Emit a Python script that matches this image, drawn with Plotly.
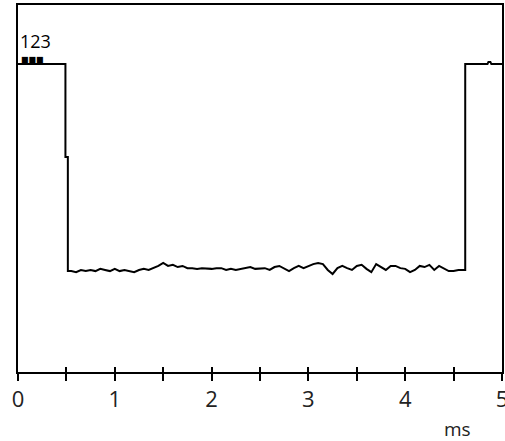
import plotly.graph_objects as go

# Time (ms) and level (arbitrary units, 0-100 scale)
t_edges_start = [0.0, 0.49, 0.49, 0.515, 0.515]
v_edges_start = [83.9, 83.9, 58.6, 58.6, 27.5]

t_low = [0.55, 0.60, 0.65, 0.70, 0.75, 0.80, 0.85, 0.90, 0.95, 1.00,
         1.05, 1.10, 1.15, 1.20, 1.25, 1.30, 1.35, 1.40, 1.45, 1.50,
         1.55, 1.60, 1.65, 1.70, 1.75, 1.80, 1.85, 1.90, 1.95, 2.00,
         2.05, 2.10, 2.15, 2.20, 2.25, 2.30, 2.35, 2.40, 2.45, 2.50,
         2.55, 2.60, 2.65, 2.70, 2.75, 2.80, 2.85, 2.90, 2.95, 3.00,
         3.05, 3.10, 3.15, 3.20, 3.25, 3.30, 3.35, 3.40, 3.45, 3.50,
         3.55, 3.60, 3.65, 3.70, 3.75, 3.80, 3.85, 3.90, 3.95, 4.00,
         4.05, 4.10, 4.15, 4.20, 4.25, 4.30, 4.35, 4.40, 4.45, 4.50,
         4.55, 4.62]
v_low = [27.5, 27.2, 27.8, 27.5, 27.8, 27.5, 28.1, 27.8, 27.5, 28.1,
         27.5, 27.8, 27.5, 27.2, 27.8, 28.1, 27.8, 28.3, 28.9, 29.7,
         28.9, 29.2, 28.6, 28.9, 28.3, 28.3, 28.1, 28.3, 28.1, 28.1,
         28.3, 28.3, 27.8, 28.1, 27.8, 28.1, 28.3, 28.6, 28.1, 28.3,
         28.3, 27.8, 28.6, 28.9, 28.3, 27.5, 28.3, 28.9, 28.3, 28.9,
         29.4, 29.7, 29.4, 27.8, 26.7, 28.3, 28.9, 28.3, 27.8, 28.9,
         29.2, 28.1, 27.2, 29.4, 28.6, 27.8, 28.9, 28.9, 28.3, 28.1,
         27.2, 27.8, 28.9, 28.6, 29.2, 27.8, 28.9, 28.3, 27.5, 27.5,
         27.8, 27.8]

t_edges_end = [4.62, 4.62, 4.85, 4.86, 4.88, 4.89, 4.92, 5.0]
v_edges_end = [27.8, 83.9, 83.9, 84.5, 84.5, 83.9, 83.9, 83.9]

t_all = t_edges_start + t_low + t_edges_end
v_all = v_edges_start + v_low + v_edges_end

major_ticks = [0, 1, 2, 3, 4, 5]
tick_labels = ["0", "1", "2", "3", "4", "5"]

FONT = "Open Sans"

fig = go.Figure()
fig.add_trace(go.Scatter(x=t_all, y=v_all, mode="lines",
                         line=dict(color="black", width=2),
                         hoverinfo="skip", showlegend=False))
# invisible trace for the overlay axis carrying the inside ticks
fig.add_trace(go.Scatter(x=[0, 5], y=[0, 0], mode="lines", xaxis="x2",
                         line=dict(color="rgba(0,0,0,0)"),
                         hoverinfo="skip", showlegend=False))

fig.update_layout(
    width=505, height=441,
    margin=dict(l=18, r=3, t=5, b=69, autoexpand=False),
    paper_bgcolor="white", plot_bgcolor="white",
    font=dict(family=FONT, color="black"),
    xaxis=dict(range=[0, 5], tickmode="array", tickvals=major_ticks,
               ticktext=tick_labels, ticks="outside", ticklen=7,
               tickwidth=2, tickcolor="black", automargin=False,
               ticklabeloverflow="allow",
               minor=dict(dtick=0.5, ticks="outside", ticklen=7,
                          tickwidth=2, tickcolor="black"),
               showline=True, linecolor="black", linewidth=2, mirror=True,
               showgrid=False, zeroline=False,
               tickfont=dict(family=FONT, size=22, color="#222")),
    xaxis2=dict(range=[0, 5], overlaying="x", side="bottom", anchor="y",
                dtick=0.5, tick0=0, ticks="inside", ticklen=5, tickwidth=2,
                tickcolor="black", showticklabels=False, showgrid=False,
                zeroline=False, showline=False, automargin=False),
    yaxis=dict(range=[0, 100], showticklabels=False, ticks="",
               showline=True, linecolor="black", linewidth=2, mirror=True,
               showgrid=False, zeroline=False, automargin=False),
    annotations=[
        dict(text="123", x=0.0, y=90.3, xref="paper", yref="y",
             xanchor="left", yanchor="middle", showarrow=False,
             font=dict(family=FONT, size=18, color="black")),
        dict(text="■■■", x=0.003, y=85.2, xref="paper", yref="y",
             xanchor="left", yanchor="middle", showarrow=False,
             font=dict(family="DejaVu Sans", size=8, color="black")),
        dict(text="ms", x=(457 - 18) / 484, y=-(429 - 372) / 367,
             xref="paper", yref="paper", xanchor="center", yanchor="middle",
             showarrow=False, font=dict(family=FONT, size=19, color="#222")),
    ],
)

fig.write_html("out.html",
               config={"displayModeBar": False},
               post_script="document.body.style.margin='0';"
                           "document.body.style.overflow='hidden';")
